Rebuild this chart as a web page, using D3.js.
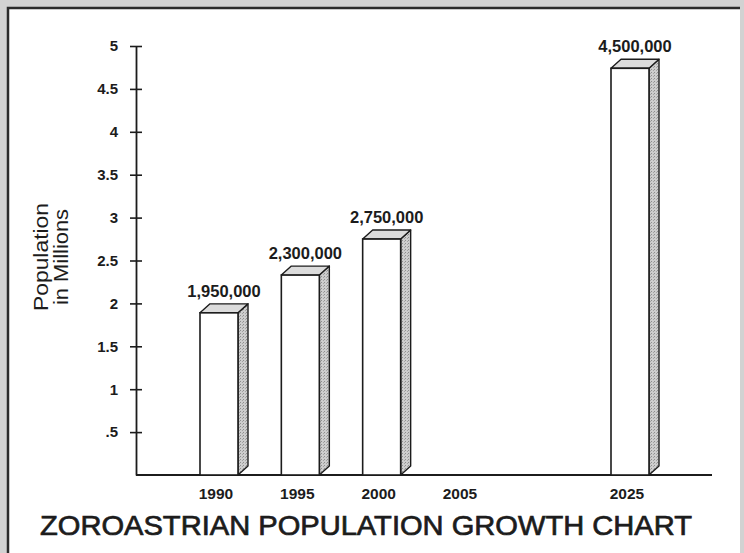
<!DOCTYPE html>
<html>
<head>
<meta charset="utf-8">
<script src="https://cdn.jsdelivr.net/npm/d3@7"></script>
<style>
  body { margin: 0; background: #d2d2d2; }
  svg { display: block; }
  text { font-family: "Liberation Sans", Arial, sans-serif; fill: #1c1c1c; }
</style>
</head>
<body>
<svg id="chart"></svg>
<script>
// chart data
const years = ["1990", "1995", "2000", "2005", "2025"];
const yearNums = [1990, 1995, 2000, 2005, 2025];
const population = [1950000, 2300000, 2750000, null, 4500000];
// heights the bars are actually drawn at (millions) - the original is not to scale
const drawnHeight = [1.89, 2.33, 2.75, null, 4.74];
const yTicks = [0.5, 1, 1.5, 2, 2.5, 3, 3.5, 4, 4.5, 5];
const yTickLabels = [".5", "1", "1.5", "2", "2.5", "3", "3.5", "4", "4.5", "5"];

const width = 744, height = 553;
const dx = 10, dy = 9, barW = 38;

const svg = d3.select("#chart").attr("width", width).attr("height", height);

// pattern for the shaded side faces
const defs = svg.append("defs");
const pat = defs.append("pattern")
    .attr("id", "stipple")
    .attr("width", 3).attr("height", 3)
    .attr("patternUnits", "userSpaceOnUse");
pat.append("rect").attr("width", 3).attr("height", 3).attr("fill", "#cdcdcd");
pat.append("rect").attr("x", 0).attr("y", 0).attr("width", 1).attr("height", 1).attr("fill", "#8e8e8e");
pat.append("rect").attr("x", 2).attr("y", 1).attr("width", 1).attr("height", 1).attr("fill", "#a4a4a4");

// frame
svg.append("rect").attr("width", width).attr("height", height).attr("fill", "#d2d2d2");
svg.append("rect").attr("x", 8).attr("y", 8).attr("width", 732).attr("height", height).attr("fill", "#fff");
svg.append("path")
    .attr("d", "M8," + height + "V8H740")
    .attr("fill", "none").attr("stroke", "#2b2b2b").attr("stroke-width", 2.5);

// scales - the x axis jumps from 2005 to 2025
const x = d3.scaleLinear().domain([1990, 2005, 2025]).range([219, 463, 630]);
const y = d3.scaleLinear().domain([0, 5]).range([475, 46]);

// y axis
const yAxis = svg.append("g")
    .attr("transform", "translate(136,0)")
    .call(d3.axisLeft(y)
        .tickValues(yTicks)
        .tickFormat((d, i) => yTickLabels[i])
        .tickSizeInner(6)
        .tickSizeOuter(0)
        .tickPadding(12));
yAxis.select(".domain").attr("stroke", "#1c1c1c").attr("stroke-width", 1.8);
yAxis.selectAll(".tick line").attr("x1", -6).attr("x2", 6).attr("stroke", "#1c1c1c").attr("stroke-width", 1.6);
yAxis.selectAll(".tick text")
    .style("font-size", "15px").style("font-weight", "bold").attr("fill", "#1c1c1c");

// baseline
svg.append("line")
    .attr("x1", 136).attr("x2", 712)
    .attr("y1", y(0)).attr("y2", y(0))
    .attr("stroke", "#1c1c1c").attr("stroke-width", 1.8);

// bars
const data = years.map((yr, i) => ({ yr: yr, n: yearNums[i], pop: population[i], h: drawnHeight[i] }))
    .filter(d => d.h !== null);

const bars = svg.selectAll("g.bar").data(data).enter().append("g").attr("class", "bar");

bars.append("path")
    .attr("d", d => {
        let x1 = x(d.n) + barW / 2, yt = y(d.h), y0 = y(0);
        return "M" + x1 + "," + yt + "L" + (x1 + dx) + "," + (yt - dy) +
            "L" + (x1 + dx) + "," + (y0 - dy) + "L" + x1 + "," + y0 + "Z";
    })
    .attr("fill", "url(#stipple)")
    .attr("stroke", "#1c1c1c").attr("stroke-width", 1.4).attr("stroke-linejoin", "round");

bars.append("path")
    .attr("d", d => {
        let x0 = x(d.n) - barW / 2, x1 = x(d.n) + barW / 2, yt = y(d.h);
        return "M" + x0 + "," + yt + "L" + (x0 + dx) + "," + (yt - dy) +
            "L" + (x1 + dx) + "," + (yt - dy) + "L" + x1 + "," + yt + "Z";
    })
    .attr("fill", "#dcdcdc")
    .attr("stroke", "#1c1c1c").attr("stroke-width", 1.4).attr("stroke-linejoin", "round");

bars.append("rect")
    .attr("x", d => x(d.n) - barW / 2)
    .attr("y", d => y(d.h))
    .attr("width", barW)
    .attr("height", d => y(0) - y(d.h))
    .attr("fill", "#fff")
    .attr("stroke", "#1c1c1c").attr("stroke-width", 1.6);

bars.append("text")
    .attr("x", d => x(d.n) + 5)
    .attr("y", d => y(d.h) - dy - 7)
    .attr("text-anchor", "middle")
    .style("font-size", "16.5px").style("font-weight", "bold")
    .text(d => d3.format(",")(d.pop));

// year labels
svg.selectAll("text.year").data(years).enter().append("text")
    .attr("class", "year")
    .attr("x", (d, i) => x(yearNums[i]) - 3)
    .attr("y", 499)
    .attr("text-anchor", "middle")
    .style("font-size", "15.5px").style("font-weight", "bold")
    .text(d => d);

// y axis title
const yTitle = svg.append("text")
    .attr("transform", "translate(48,257) rotate(-90)")
    .attr("text-anchor", "middle")
    .style("font-size", "20px");
yTitle.append("tspan").attr("x", 0).attr("y", 0)
    .attr("textLength", 108).attr("lengthAdjust", "spacingAndGlyphs").text("Population");
yTitle.append("tspan").attr("x", 0).attr("y", 20)
    .attr("textLength", 96).attr("lengthAdjust", "spacingAndGlyphs").text("in Millions");

// title
svg.append("text")
    .attr("x", 366)
    .attr("y", 535)
    .attr("text-anchor", "middle")
    .style("font-size", "28px")
    .attr("stroke", "#1c1c1c")
    .attr("stroke-width", 0.7)
    .attr("textLength", 652)
    .attr("lengthAdjust", "spacingAndGlyphs")
    .text("ZOROASTRIAN POPULATION GROWTH CHART");
</script>
</body>
</html>
